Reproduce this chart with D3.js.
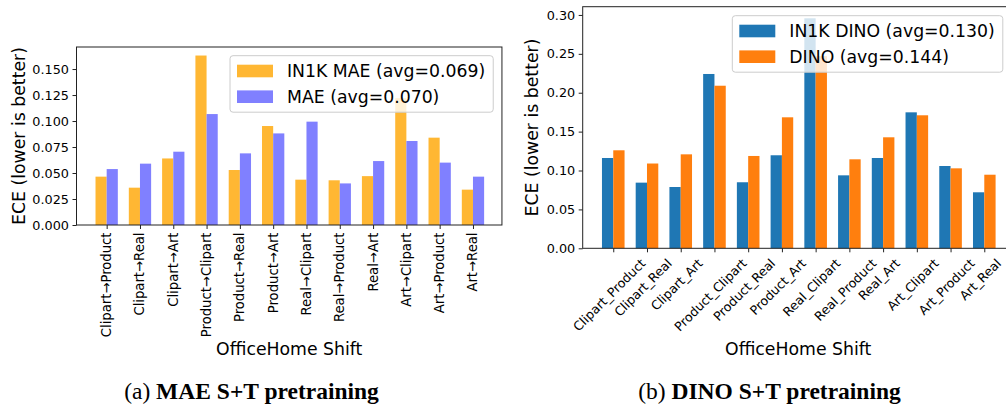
<!DOCTYPE html>
<html>
<head>
<meta charset="utf-8">
<script src="https://cdn.jsdelivr.net/npm/d3@7"></script>
<style>
  body { margin: 0; background: #fff; }
  svg { display: block; }
  text { font-family: "DejaVu Sans", sans-serif; fill: #000; }
</style>
</head>
<body>
<script>
// data
const maeShifts = ["Clipart→Product", "Clipart→Real", "Clipart→Art", "Product→Clipart", "Product→Real", "Product→Art",
  "Real→Clipart", "Real→Product", "Real→Art", "Art→Clipart", "Art→Product", "Art→Real"];
const in1kMae = [0.0465, 0.0359, 0.064, 0.163, 0.0529, 0.0952, 0.0436, 0.043, 0.047, 0.122, 0.084, 0.034];
const mae = [0.0538, 0.059, 0.0705, 0.1067, 0.0689, 0.0881, 0.0994, 0.040, 0.0615, 0.0808, 0.060, 0.0465];
const maeTicks = [0, 0.025, 0.05, 0.075, 0.1, 0.125, 0.15];
const maeLegend = ["IN1K MAE (avg=0.069)", "MAE (avg=0.070)"];

const dinoShifts = ["Clipart_Product", "Clipart_Real", "Clipart_Art", "Product_Clipart", "Product_Real", "Product_Art",
  "Real_Clipart", "Real_Product", "Real_Art", "Art_Clipart", "Art_Product", "Art_Real"];
const in1kDino = [0.1161, 0.0844, 0.0788, 0.2241, 0.0849, 0.1196, 0.2957, 0.0938, 0.1161, 0.1748, 0.1058, 0.072];
const dino = [0.126, 0.109, 0.1208, 0.209, 0.1187, 0.1684, 0.247, 0.1144, 0.1427, 0.171, 0.1028, 0.0946];
const dinoTicks = [0, 0.05, 0.1, 0.15, 0.2, 0.25, 0.3];
const dinoLegend = ["IN1K DINO (avg=0.130)", "DINO (avg=0.144)"];

const svg = d3.select("body").append("svg").attr("width", 1006).attr("height", 404);

function drawPanel(cfg) {
  const g = svg.append("g");
  const x = d3.scaleLinear().domain([-0.906, 11.87]).range([cfg.left, cfg.left + (11.87 + 0.906) * cfg.unit]);
  const y = d3.scaleLinear().domain([0, cfg.ymax]).range([cfg.bottom, cfg.top]);
  const bw = 0.335;

  // bars
  cfg.series.forEach((vals, s) => {
    g.selectAll(null).data(vals).enter().append("rect")
      .attr("x", (d, i) => x(i + (s - 1) * bw))
      .attr("width", x(bw) - x(0))
      .attr("y", d => y(d))
      .attr("height", d => y(0) - y(d))
      .attr("fill", cfg.colors[s]);
  });

  // frame
  g.append("rect")
    .attr("x", x.range()[0]).attr("y", cfg.top)
    .attr("width", x.range()[1] - x.range()[0]).attr("height", cfg.bottom - cfg.top)
    .attr("fill", "none").attr("stroke", "#222").attr("stroke-width", 1);

  // y axis
  const ya = g.append("g").attr("transform", `translate(${x.range()[0]},0)`)
    .call(d3.axisLeft(y).tickValues(cfg.yTicks).tickFormat(d3.format(cfg.fmt)).tickSize(4).tickPadding(3.5));
  ya.select(".domain").remove();
  ya.selectAll("line").attr("stroke", "#222");
  ya.selectAll("text").style("font-size", "12.8px").style("font-family", "DejaVu Sans").attr("fill", "#000");

  // x axis ticks
  const xa = g.append("g").attr("transform", `translate(0,${cfg.bottom})`)
    .call(d3.axisBottom(x).tickValues(d3.range(cfg.cats.length)).tickFormat("").tickSize(4));
  xa.select(".domain").remove();
  xa.selectAll("line").attr("stroke", "#222");

  // x tick labels
  const y0 = cfg.bottom + 7.5;
  cfg.cats.forEach((c, i) => {
    const t = g.append("text").text(c).style("font-size", cfg.xfs + "px");
    if (cfg.rot === 90) {
      t.attr("text-anchor", "end").attr("dominant-baseline", "central")
        .attr("transform", `translate(${x(i)},${y0}) rotate(-90)`);
    } else {
      const w = t.node().getComputedTextLength();
      const h = cfg.xfs * 1.17;
      const cy = y0 + (w + h) / (2 * Math.SQRT2);
      t.attr("text-anchor", "middle").attr("dominant-baseline", "central")
        .attr("transform", `translate(${x(i) - 4},${cy}) rotate(-45)`);
    }
  });

  // axis labels
  g.append("text").text("OfficeHome Shift")
    .attr("x", (x.range()[0] + x.range()[1]) / 2).attr("y", 349)
    .attr("text-anchor", "middle").attr("dominant-baseline", "central")
    .style("font-size", "17.3px");
  g.append("text").text("ECE (lower is better)")
    .attr("transform", `translate(${cfg.ylabX},${(cfg.top + cfg.bottom) / 2}) rotate(-90)`)
    .attr("text-anchor", "middle").attr("dominant-baseline", "central")
    .style("font-size", "17.3px");

  // legend
  const L = cfg.legend;
  const lg = g.append("g");
  const box = lg.append("rect")
    .attr("x", L.x).attr("y", L.y).attr("height", 56.5).attr("rx", 3)
    .attr("fill", "#fff").attr("fill-opacity", 0.8)
    .attr("stroke", "#ccc").attr("stroke-width", 1);
  let maxW = 0;
  cfg.labels.forEach((lab, s) => {
    const cy = L.y + 15.3 + s * 25.7;
    lg.append("rect").attr("x", L.x + 7).attr("y", cy - 6.3).attr("width", 36).attr("height", 12.6)
      .attr("fill", cfg.colors[s]);
    const t = lg.append("text").text(lab).attr("x", L.x + 57).attr("y", cy)
      .attr("dominant-baseline", "central").style("font-size", "17.3px");
    maxW = Math.max(maxW, t.node().getComputedTextLength());
  });
  box.attr("width", 57 + maxW + 8);

  // caption
  const cap = g.append("text").attr("x", cfg.capX).attr("y", 398.5).attr("text-anchor", "middle")
    .style("font-family", "Liberation Serif, Times New Roman, serif").style("font-size", "23.5px");
  cap.append("tspan").text(cfg.capA);
  cap.append("tspan").text(cfg.capB).style("font-weight", "bold");
}

drawPanel({
  cats: maeShifts, series: [in1kMae, mae], labels: maeLegend,
  colors: ["#ffb733", "#8080ff"],
  left: 76.5, unit: 33.3, top: 47, bottom: 225, ymax: 0.1712,
  yTicks: maeTicks, fmt: ".3f", rot: 90, xfs: 13.2, ylabX: 19,
  legend: { x: 230, y: 55.7 },
  capX: 251.5, capA: "(a) ", capB: "MAE S+T pretraining"
});

drawPanel({
  cats: dinoShifts, series: [in1kDino, dino], labels: dinoLegend,
  colors: ["#1f77b4", "#ff7f0e"],
  left: 582.7, unit: 33.73, top: 6.7, bottom: 248.3, ymax: 0.3106,
  yTicks: dinoTicks, fmt: ".2f", rot: 45, xfs: 12.6, ylabX: 532,
  legend: { x: 732.3, y: 15.7 },
  capX: 769.5, capA: "(b) ", capB: "DINO S+T pretraining"
});
</script>
</body>
</html>
